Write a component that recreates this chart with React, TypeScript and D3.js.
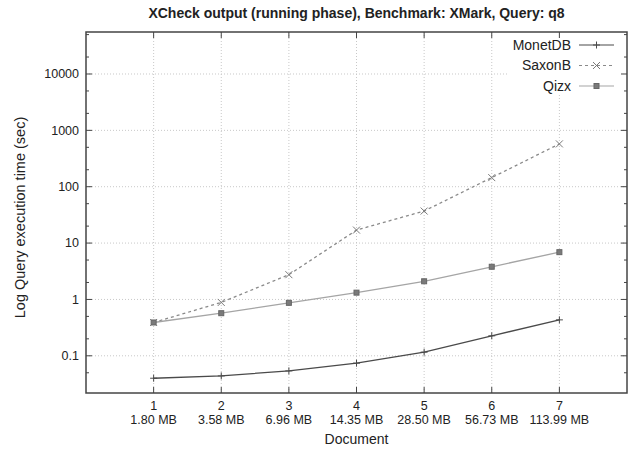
import * as d3 from "d3";

const docs = [1, 2, 3, 4, 5, 6, 7];
const sizes = ["1.80 MB", "3.58 MB", "6.96 MB", "14.35 MB", "28.50 MB", "56.73 MB", "113.99 MB"];
const monetdb = [0.04, 0.044, 0.054, 0.074, 0.116, 0.226, 0.434];
const saxonb = [0.39, 0.885, 2.75, 17, 37, 145, 575];
const qizx = [0.39, 0.57, 0.87, 1.32, 2.1, 3.8, 6.9];
const yTicks = [0.1, 1, 10, 100, 1000, 10000];

const W = 635;
const H = 451;
const left = 86, right = 627, top = 32, bottom = 393;

const font = "'Liberation Sans', Arial, sans-serif";

export default function App() {
  const x = d3.scaleLinear().domain([0, 8]).range([left, right]);
  const y = d3.scaleLog().domain([Math.pow(10, -1.66), Math.pow(10, 4.745)]).range([bottom, top]);

  // minor ticks at 2x and 5x per decade
  const minor: number[] = [];
  for (let e = -2; e <= 4; e++) {
    [2, 5].forEach((m) => {
      const v = m * Math.pow(10, e);
      if (y(v) > top + 1 && y(v) < bottom - 1) minor.push(v);
    });
  }

  const line = d3
    .line<number>()
    .x((_, i) => x(docs[i]))
    .y((d) => y(d));

  const series = [
    { name: "MonetDB", values: monetdb, color: "#4a4a4a", dash: "", marker: "plus", mcolor: "#4a4a4a" },
    { name: "SaxonB", values: saxonb, color: "#8a8a8a", dash: "3,3", marker: "cross", mcolor: "#7a7a7a" },
    { name: "Qizx", values: qizx, color: "#a5a5a5", dash: "", marker: "star", mcolor: "#666" },
  ];

  const marker = (type: string, cx: number, cy: number, color: string, key: any) => {
    const s = 3.5;
    if (type === "plus")
      return (
        <path key={key} d={`M${cx - s},${cy}H${cx + s}M${cx},${cy - s}V${cy + s}`} stroke={color} strokeWidth={1} />
      );
    if (type === "cross")
      return (
        <path
          key={key}
          d={`M${cx - s},${cy - s}L${cx + s},${cy + s}M${cx - s},${cy + s}L${cx + s},${cy - s}`}
          stroke={color}
          strokeWidth={1}
        />
      );
    return (
      <g key={key}>
        <rect x={cx - 2.5} y={cy - 2.5} width={5} height={5} fill="#7a7a7a" stroke={color} strokeWidth={1} />
      </g>
    );
  };

  const legendY = [45, 65.5, 86];

  return (
    <svg
      width={W}
      height={H}
      style={{ position: "absolute", left: 0, top: 0, background: "#fff" }}
      fontFamily={font}
    >
      <rect width={W} height={H} fill="#fff" />
      <text x={(left + right) / 2} y={18} textAnchor="middle" fontSize={14} fontWeight="bold" fill="#222">
        XCheck output (running phase), Benchmark: XMark, Query: q8
      </text>

      {/* grid */}
      {yTicks.map((t) => (
        <line key={"gy" + t} x1={left} x2={right} y1={y(t)} y2={y(t)} stroke="#c8c8c8" strokeDasharray="1,2" />
      ))}
      {docs.map((d) => (
        <line key={"gx" + d} x1={x(d)} x2={x(d)} y1={top} y2={bottom} stroke="#c8c8c8" strokeDasharray="1,2" />
      ))}

      {/* legend background hides the grid */}
      <rect x={508} y={top + 1} width={right - 509} height={62} fill="#fff" />

      {/* ticks */}
      {yTicks.map((t) => (
        <g key={"ty" + t}>
          <line x1={left} x2={left + 6} y1={y(t)} y2={y(t)} stroke="#444" />
          <line x1={right} x2={right - 6} y1={y(t)} y2={y(t)} stroke="#444" />
          <text x={left - 7} y={y(t)} dy="0.35em" textAnchor="end" fontSize={12.5} fill="#222">
            {t}
          </text>
        </g>
      ))}
      {minor.map((t) => (
        <g key={"my" + t}>
          <line x1={left} x2={left + 3} y1={y(t)} y2={y(t)} stroke="#444" />
          <line x1={right} x2={right - 3} y1={y(t)} y2={y(t)} stroke="#444" />
        </g>
      ))}
      {docs.map((d, i) => (
        <g key={"tx" + d}>
          <line x1={x(d)} x2={x(d)} y1={bottom} y2={bottom - 6} stroke="#444" />
          <line x1={x(d)} x2={x(d)} y1={top} y2={top + 6} stroke="#444" />
          <text x={x(d)} y={410} textAnchor="middle" fontSize={12.5} fill="#222">
            {d}
          </text>
          <text x={x(d)} y={423.5} textAnchor="middle" fontSize={12.5} fill="#222">
            {sizes[i]}
          </text>
        </g>
      ))}

      {/* series */}
      {series.map((s) => (
        <g key={s.name}>
          <path d={line(s.values) || ""} fill="none" stroke={s.color} strokeWidth={1.3} strokeDasharray={s.dash} />
          {s.values.map((v, i) => marker(s.marker, x(docs[i]), y(v), s.mcolor, i))}
        </g>
      ))}

      {/* legend */}
      {series.map((s, i) => (
        <g key={"lg" + s.name}>
          <text x={571} y={legendY[i]} dy="0.35em" textAnchor="end" fontSize={14} fill="#222">
            {s.name}
          </text>
          <line x1={579} x2={614} y1={legendY[i]} y2={legendY[i]} stroke={s.color} strokeWidth={1.2} strokeDasharray={s.dash} />
          {marker(s.marker, 596.5, legendY[i], s.mcolor, "m")}
        </g>
      ))}

      {/* frame */}
      <rect x={left} y={top} width={right - left} height={bottom - top} fill="none" stroke="#444" strokeWidth={1.5} />

      {/* axis titles */}
      <text x={(left + right) / 2} y={444} textAnchor="middle" fontSize={14} fill="#222">
        Document
      </text>
      <text
        transform={`translate(25,${(top + bottom) / 2 + 5}) rotate(-90)`}
        textAnchor="middle"
        fontSize={14.5}
        fill="#222"
      >
        Log Query execution time (sec)
      </text>
    </svg>
  );
}
